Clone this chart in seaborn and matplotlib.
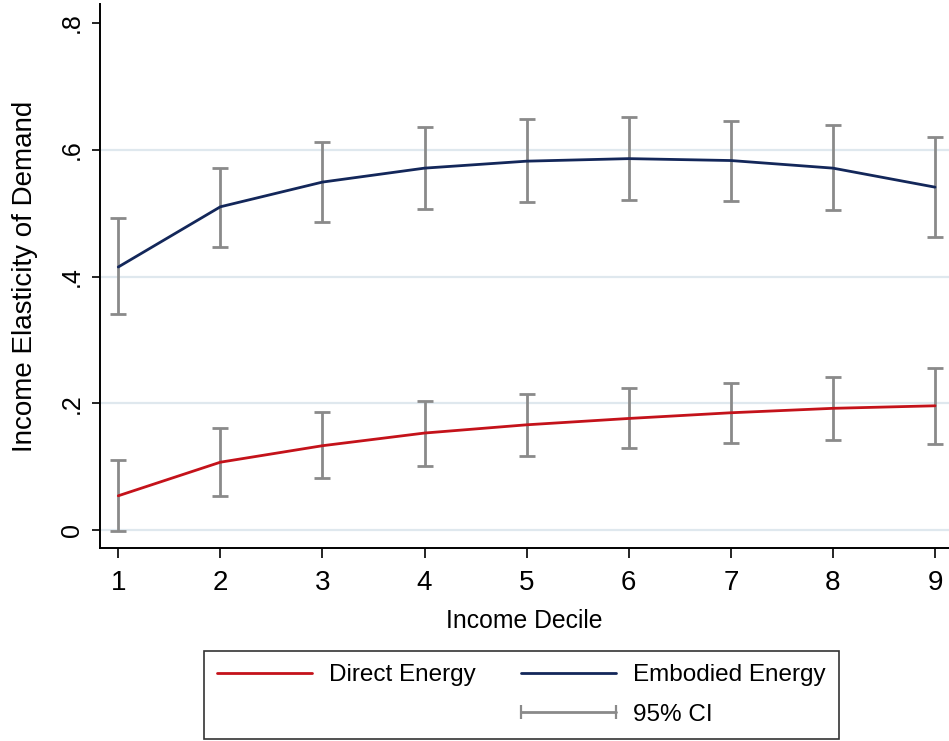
import numpy as np
import pandas as pd
import seaborn as sns
import matplotlib.pyplot as plt
from matplotlib.lines import Line2D
from matplotlib.legend_handler import HandlerLine2D

deciles = [1, 2, 3, 4, 5, 6, 7, 8, 9]

direct = [0.054, 0.107, 0.133, 0.153, 0.166, 0.176, 0.185, 0.192, 0.196]
direct_lo = [-0.002, 0.053, 0.082, 0.101, 0.116, 0.129, 0.137, 0.142, 0.136]
direct_hi = [0.110, 0.161, 0.186, 0.203, 0.215, 0.224, 0.232, 0.242, 0.256]

embodied = [0.415, 0.510, 0.549, 0.571, 0.582, 0.586, 0.583, 0.571, 0.541]
embodied_lo = [0.341, 0.447, 0.486, 0.506, 0.518, 0.521, 0.519, 0.505, 0.462]
embodied_hi = [0.492, 0.572, 0.613, 0.636, 0.648, 0.652, 0.646, 0.639, 0.620]

y_ticks = [0, 0.2, 0.4, 0.6, 0.8]
y_tick_labels = ['0', '.2', '.4', '.6', '.8']

red = '#c4121a'
navy = '#13275a'
ci_gray = '#8a8a8a'
grid_col = '#dfe8ee'

sns.set_theme(style='white')
plt.rcParams['font.family'] = ['Liberation Sans', 'DejaVu Sans']
plt.rcParams['text.color'] = 'black'
plt.rcParams['axes.labelcolor'] = 'black'

df = pd.DataFrame({
    'decile': deciles * 2,
    'elasticity': direct + embodied,
    'lo': direct_lo + embodied_lo,
    'hi': direct_hi + embodied_hi,
    'series': ['Direct Energy'] * 9 + ['Embodied Energy'] * 9,
})

fig = plt.figure(figsize=(9.49, 7.41), dpi=100)
ax = fig.add_axes([100 / 949, 1 - 548 / 741, 1 - 100 / 949, (548 - 4) / 741])

for y in y_ticks[:-1]:
    ax.axhline(y, color=grid_col, lw=1.6, zorder=0)

# confidence intervals
for name, sub in df.groupby('series'):
    mid = sub['elasticity'].values
    ax.errorbar(sub['decile'], mid,
                yerr=[mid - sub['lo'].values, sub['hi'].values - mid],
                fmt='none', ecolor=ci_gray, elinewidth=2, capsize=5.5,
                capthick=2, zorder=1)

sns.lineplot(data=df, x='decile', y='elasticity', hue='series',
             palette={'Direct Energy': red, 'Embodied Energy': navy},
             errorbar=None, linewidth=2, legend=False, ax=ax, zorder=3)

ax.set_xlim(0.821, 9.137)
ax.set_ylim(-0.0284, 0.83)
ax.set_xticks(deciles)
ax.set_xticklabels([str(d) for d in deciles], fontsize=20)
ax.set_yticks(y_ticks)
ax.set_yticklabels(y_tick_labels, rotation=90, va='center', fontsize=18)
ax.tick_params(axis='x', length=7, width=1.2, pad=8.5,
               direction='out', bottom=True, colors='black')
ax.tick_params(axis='y', length=5.5, width=1.2, pad=6, direction='out',
               left=True, colors='black')

ax.set_xlabel('Income Decile', fontsize=17.8, labelpad=9.5)
ax.set_ylabel('Income Elasticity of Demand', fontsize=20, labelpad=16)

sns.despine(ax=ax)
for s in ['left', 'bottom']:
    ax.spines[s].set_color('black')
    ax.spines[s].set_linewidth(1.4)

handles = [
    Line2D([], [], color=red, lw=2),
    Line2D([], [], alpha=0),
    Line2D([], [], color=navy, lw=2),
    Line2D([], [], color=ci_gray, lw=2, marker='|', markersize=9.5,
           markeredgewidth=1.6),
]
labels = ['Direct Energy', '', 'Embodied Energy', '95% CI']
leg = fig.legend(handles, labels, ncol=2, loc='upper left',
                 bbox_to_anchor=(204 / 949, 1 - 651 / 741),
                 fontsize=17.5, numpoints=2, handlelength=3.9,
                 handletextpad=0.7, columnspacing=1.85, labelspacing=0.72,
                 borderpad=0.55, borderaxespad=0, frameon=True,
                 fancybox=False, edgecolor='black',
                 handler_map={Line2D: HandlerLine2D(marker_pad=0)})
leg.get_frame().set_linewidth(1.2)

fig.savefig('out.png', dpi=100)
